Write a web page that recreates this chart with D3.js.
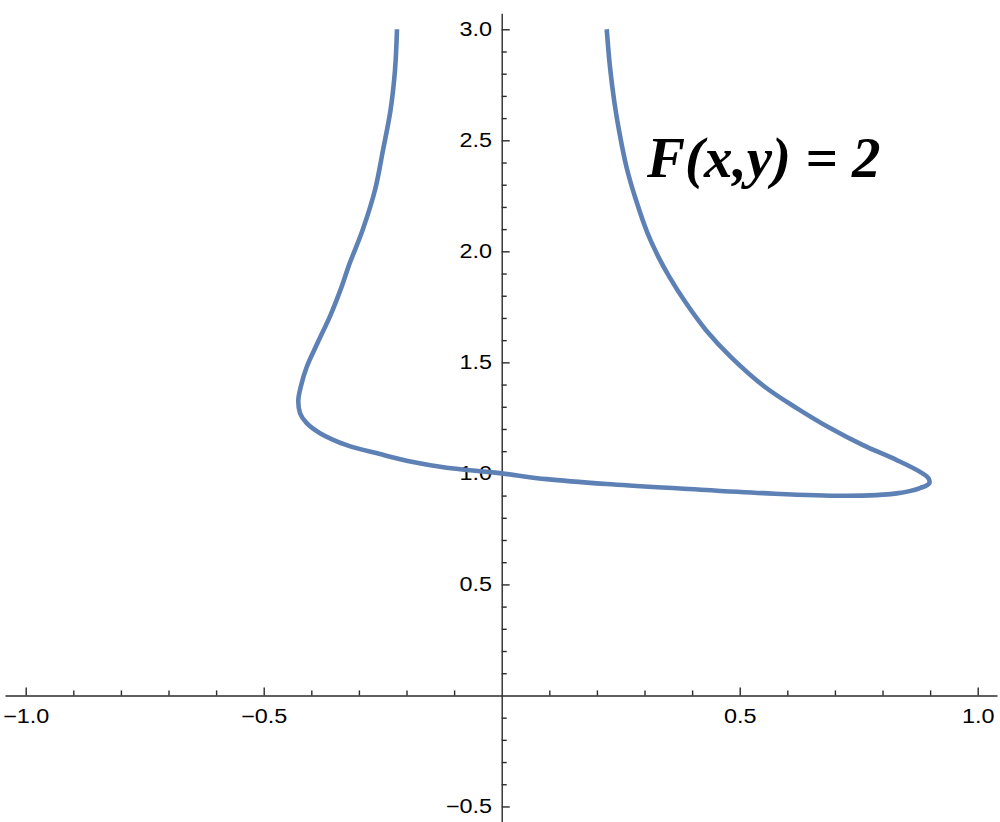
<!DOCTYPE html>
<html>
<head>
<meta charset="utf-8">
<script src="https://cdn.jsdelivr.net/npm/d3@7"></script>
<style>
  body { margin: 0; background: #fff; }
  svg { display: block; }
</style>
</head>
<body>
<script>
// contour F(x,y) = 2 (top-left -> bottom -> top-right)
var curveX = [-0.2200, -0.2242, -0.2336, -0.2494, -0.2662, -0.2924, -0.3208, -0.3366, -0.3597, -0.3870,
              -0.4097, -0.4223, -0.4273, -0.4237, -0.4097, -0.3817, -0.3256, -0.2557, -0.1863, -0.1155,
              -0.0456, 0.0000, 0.0945, 0.2206, 0.3746, 0.5489, 0.7248, 0.8298, 0.8788, 0.8983,
              0.8962, 0.8788, 0.8298, 0.7590, 0.6897, 0.6197, 0.5532, 0.4817, 0.4292, 0.3872,
              0.3525, 0.3294, 0.3063, 0.2821, 0.2622, 0.2475, 0.2370, 0.2275, 0.2206];
var curveY = [3.000, 2.816, 2.636, 2.456, 2.276, 2.095, 1.938, 1.839, 1.713, 1.587,
              1.479, 1.389, 1.330, 1.271, 1.226, 1.181, 1.127, 1.087, 1.051, 1.025,
              1.010, 1.000, 0.974, 0.952, 0.932, 0.911, 0.899, 0.910, 0.934, 0.956,
              0.979, 1.007, 1.060, 1.127, 1.204, 1.294, 1.389, 1.524, 1.645, 1.767,
              1.884, 1.974, 2.082, 2.231, 2.379, 2.532, 2.667, 2.829, 3.000];

var xMajor = [-1.0, -0.5, 0.5, 1.0];
var yMajor = [-0.5, 0.5, 1.0, 1.5, 2.0, 2.5, 3.0];
var xMinor = [-0.9, -0.8, -0.7, -0.6, -0.4, -0.3, -0.2, -0.1, 0.1, 0.2, 0.3, 0.4, 0.6, 0.7, 0.8, 0.9];
var yMinor = [-0.4, -0.3, -0.2, -0.1, 0.1, 0.2, 0.3, 0.4, 0.6, 0.7, 0.8, 0.9, 1.1, 1.2, 1.3, 1.4,
              1.6, 1.7, 1.8, 1.9, 2.1, 2.2, 2.3, 2.4, 2.6, 2.7, 2.8, 2.9];

var labelText = "F(x,y) = 2";
var labelPos = [0.305, 2.335];

var width = 1000, height = 822;
var axisColor = "#2b2b2b";

var svg = d3.select("body").append("svg")
    .attr("width", width)
    .attr("height", height);

var x = d3.scaleLinear().domain([-1.0435, 1.0405]).range([5, 997]);
var y = d3.scaleLinear().domain([-0.57, 3.072]).range([822, 13.3]);

var fmt = d3.format(".1f");

// x axis (ticks point up, labels below)
var gx = svg.append("g").attr("transform", "translate(0," + y(0) + ")");
gx.call(d3.axisBottom(x).tickValues(xMajor).tickFormat(fmt)
    .tickSize(-8).tickSizeOuter(0).tickPadding(14));
gx.append("g").call(d3.axisBottom(x).tickValues(xMinor).tickFormat("")
    .tickSize(-5).tickSizeOuter(0))
  .select(".domain").remove();

// y axis (ticks point right, labels left)
var gy = svg.append("g").attr("transform", "translate(" + x(0) + ",0)");
gy.call(d3.axisLeft(y).tickValues(yMajor).tickFormat(fmt)
    .tickSize(-8).tickSizeOuter(0).tickPadding(8));
gy.append("g").call(d3.axisLeft(y).tickValues(yMinor).tickFormat("")
    .tickSize(-5).tickSizeOuter(0))
  .select(".domain").remove();

svg.selectAll(".domain, .tick line")
    .attr("stroke", axisColor)
    .attr("stroke-width", 1.4);

svg.selectAll(".tick text")
    .attr("fill", "#000")
    .style("font-family", "'Liberation Sans', Arial, sans-serif")
    .style("font-size", "19.5px")
    .attr("transform", "scale(1.2,1)");

// the curve
var pts = curveX.map(function(d, i) { return [d, curveY[i]]; });
var line = d3.line()
    .x(function(d) { return x(d[0]); })
    .y(function(d) { return y(d[1]); })
    .curve(d3.curveCatmullRom.alpha(0.5));

svg.append("path")
    .datum(pts)
    .attr("fill", "none")
    .attr("stroke", "#5E81B5")
    .attr("stroke-width", 4.6)
    .attr("stroke-linejoin", "round")
    .attr("d", line);

svg.append("text")
    .attr("x", x(labelPos[0]))
    .attr("y", y(labelPos[1]))
    .style("font-family", "'Liberation Serif', 'Times New Roman', serif")
    .style("font-weight", "bold")
    .style("font-style", "italic")
    .style("font-size", "57px")
    .attr("fill", "#000")
    .text(labelText);
</script>
</body>
</html>
